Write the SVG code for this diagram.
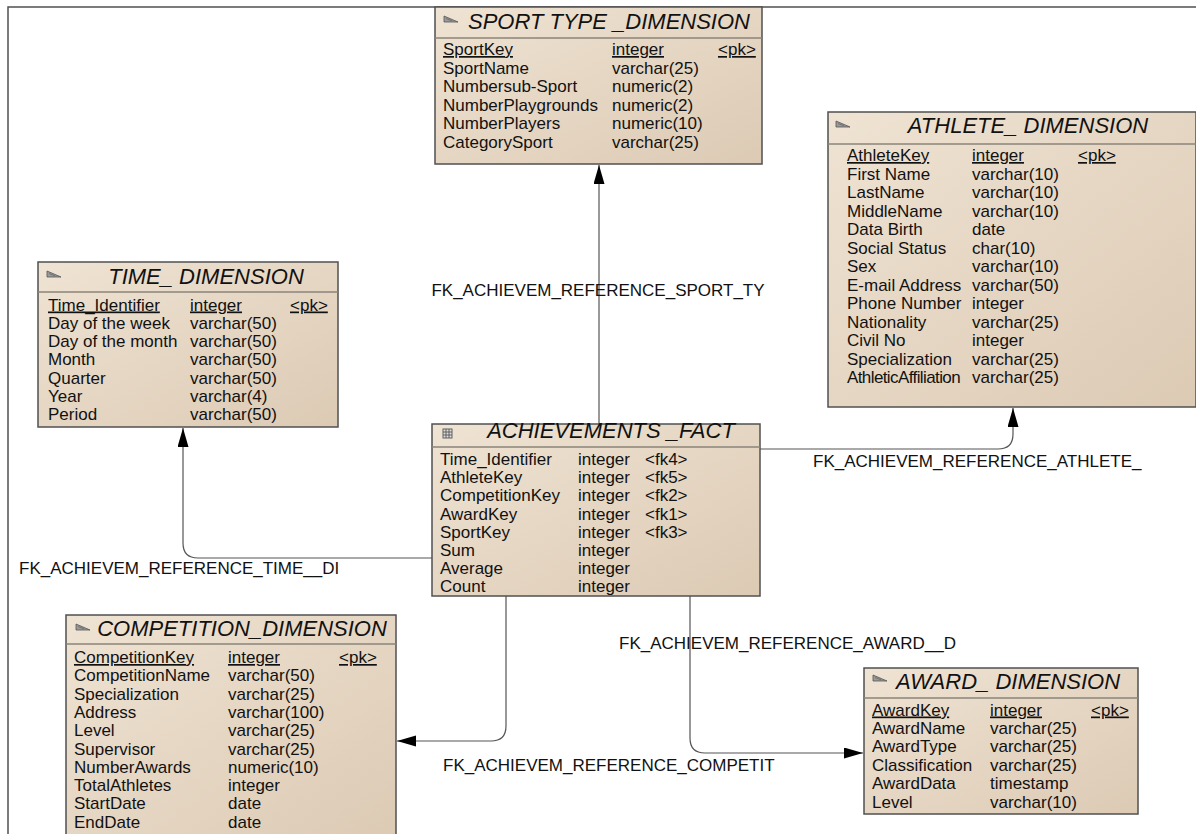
<svg xmlns="http://www.w3.org/2000/svg" width="1196" height="834" viewBox="0 0 1196 834">
<defs>
<linearGradient id="bg" x1="0" y1="0" x2="1" y2="1">
<stop offset="0" stop-color="#efe3d3"/>
<stop offset="1" stop-color="#dccab4"/>
</linearGradient>
<marker id="arr" markerWidth="20" markerHeight="12" refX="19" refY="5.5" orient="auto" markerUnits="userSpaceOnUse">
<path d="M0,0 L19,5.5 L0,11 z" fill="#000"/>
</marker>
<g id="pennant">
<path d="M0,0 L0,6 L14,6 z" fill="#9a9a9a" stroke="#555" stroke-width="0.8"/>
<line x1="2" y1="2.5" x2="8" y2="4.8" stroke="#555" stroke-width="0.6"/>
</g>
</defs>
<style>
.box{fill:url(#bg);stroke:#505050;stroke-width:1.5}
.sep{stroke:#8a8478;stroke-width:1.5}
.t{font-family:"Liberation Sans",Arial,sans-serif;font-size:17px;fill:#111}
.h{font-family:"Liberation Sans",Arial,sans-serif;font-size:22px;font-style:italic;fill:#111}
.u{text-decoration:underline}
.c{fill:none;stroke:#555;stroke-width:1.2}
.lbl{font-family:"Liberation Sans",Arial,sans-serif;font-size:17px;fill:#111}
</style>
<rect width="1196" height="834" fill="#fff"/>
<path d="M8,834 L8,7 L1196,7" fill="none" stroke="#505050" stroke-width="1.5"/>

<g id="connectors">
<path class="c" d="M599,424 L599,165" stroke="#999" marker-end="url(#arr)"/>
<path class="c" d="M432,558 L198,558 Q183,558 183,543 L183,428" marker-end="url(#arr)"/>
<path class="c" d="M760,449 L998,449 Q1013,449 1013,434 L1013,408" marker-end="url(#arr)"/>
<path class="c" d="M506,596 L506,726 Q506,741 491,741 L397,741" marker-end="url(#arr)"/>
<path class="c" d="M690,596 L690,738 Q690,753 705,753 L863,753" marker-end="url(#arr)"/>
<text class="lbl" x="598" y="296" text-anchor="middle">FK_ACHIEVEM_REFERENCE_SPORT_TY</text>
<text class="lbl" x="19" y="574">FK_ACHIEVEM_REFERENCE_TIME__DI</text>
<text class="lbl" x="813" y="467">FK_ACHIEVEM_REFERENCE_ATHLETE_</text>
<text class="lbl" x="619" y="649">FK_ACHIEVEM_REFERENCE_AWARD__D</text>
<text class="lbl" x="443" y="771">FK_ACHIEVEM_REFERENCE_COMPETIT</text>
</g>

<g id="sport">
<rect class="box" x="435" y="7" width="327" height="157"/>
<line class="sep" x1="435" y1="38" x2="762" y2="38"/>
<use href="#pennant" x="444" y="16"/>
<text class="h" x="468" y="29">SPORT TYPE _DIMENSION</text>
<g class="t">
<text x="443" y="55" class="u">SportKey</text><text x="612" y="55" class="u">integer</text><text x="718" y="55" class="u">&lt;pk&gt;</text>
<text x="443" y="73.5">SportName</text><text x="612" y="73.5">varchar(25)</text>
<text x="443" y="92">Numbersub-Sport</text><text x="612" y="92">numeric(2)</text>
<text x="443" y="110.5">NumberPlaygrounds</text><text x="612" y="110.5">numeric(2)</text>
<text x="443" y="129">NumberPlayers</text><text x="612" y="129">numeric(10)</text>
<text x="443" y="147.5">CategorySport</text><text x="612" y="147.5">varchar(25)</text>
</g>
</g>

<g id="athlete">
<rect class="box" x="828" y="112" width="368" height="295"/>
<line class="sep" x1="828" y1="144" x2="1196" y2="144"/>
<use href="#pennant" x="836" y="121"/>
<text class="h" x="1028" y="133" text-anchor="middle">ATHLETE_ DIMENSION</text>
<g class="t">
<text x="847" y="161" class="u">AthleteKey</text><text x="972" y="161" class="u">integer</text><text x="1078" y="161" class="u">&lt;pk&gt;</text>
<text x="847" y="179.5">First Name</text><text x="972" y="179.5">varchar(10)</text>
<text x="847" y="198">LastName</text><text x="972" y="198">varchar(10)</text>
<text x="847" y="216.5">MiddleName</text><text x="972" y="216.5">varchar(10)</text>
<text x="847" y="235">Data Birth</text><text x="972" y="235">date</text>
<text x="847" y="253.5">Social Status</text><text x="972" y="253.5">char(10)</text>
<text x="847" y="272">Sex</text><text x="972" y="272">varchar(10)</text>
<text x="847" y="290.5">E-mail Address</text><text x="972" y="290.5">varchar(50)</text>
<text x="847" y="309">Phone Number</text><text x="972" y="309">integer</text>
<text x="847" y="327.5">Nationality</text><text x="972" y="327.5">varchar(25)</text>
<text x="847" y="346">Civil No</text><text x="972" y="346">integer</text>
<text x="847" y="364.5">Specialization</text><text x="972" y="364.5">varchar(25)</text>
<text x="847" y="383" letter-spacing="-0.6">AthleticAffiliation</text><text x="972" y="383">varchar(25)</text>
</g>
</g>

<g id="time">
<rect class="box" x="38" y="262" width="300" height="165"/>
<line class="sep" x1="38" y1="292" x2="338" y2="292"/>
<use href="#pennant" x="47" y="271"/>
<text class="h" x="206" y="284" text-anchor="middle">TIME_ DIMENSION</text>
<g class="t">
<text x="48" y="310.5" class="u">Time_Identifier</text><text x="190" y="310.5" class="u">integer</text><text x="290" y="310.5" class="u">&lt;pk&gt;</text>
<text x="48" y="328.8">Day of the week</text><text x="190" y="328.8">varchar(50)</text>
<text x="48" y="347.1">Day of the month</text><text x="190" y="347.1">varchar(50)</text>
<text x="48" y="365.4">Month</text><text x="190" y="365.4">varchar(50)</text>
<text x="48" y="383.7">Quarter</text><text x="190" y="383.7">varchar(50)</text>
<text x="48" y="402">Year</text><text x="190" y="402">varchar(4)</text>
<text x="48" y="420.3">Period</text><text x="190" y="420.3">varchar(50)</text>
</g>
</g>

<g id="fact">
<rect class="box" x="432" y="424" width="328" height="172"/>
<line class="sep" x1="432" y1="447" x2="760" y2="447"/>
<g transform="translate(443,429)" fill="none" stroke="#555" stroke-width="0.9">
<rect x="0" y="0" width="9" height="9" fill="#ddd"/>
<line x1="0" y1="3" x2="9" y2="3"/><line x1="0" y1="6" x2="9" y2="6"/>
<line x1="3" y1="0" x2="3" y2="9"/><line x1="6" y1="0" x2="6" y2="9"/>
</g>
<text class="h" x="611" y="438" text-anchor="middle">ACHIEVEMENTS _FACT</text>
<g class="t">
<text x="440" y="465">Time_Identifier</text><text x="578" y="465">integer</text><text x="645" y="465">&lt;fk4&gt;</text>
<text x="440" y="483.2">AthleteKey</text><text x="578" y="483.2">integer</text><text x="645" y="483.2">&lt;fk5&gt;</text>
<text x="440" y="501.4">CompetitionKey</text><text x="578" y="501.4">integer</text><text x="645" y="501.4">&lt;fk2&gt;</text>
<text x="440" y="519.6">AwardKey</text><text x="578" y="519.6">integer</text><text x="645" y="519.6">&lt;fk1&gt;</text>
<text x="440" y="537.8">SportKey</text><text x="578" y="537.8">integer</text><text x="645" y="537.8">&lt;fk3&gt;</text>
<text x="440" y="556">Sum</text><text x="578" y="556">integer</text>
<text x="440" y="574.2">Average</text><text x="578" y="574.2">integer</text>
<text x="440" y="592.4">Count</text><text x="578" y="592.4">integer</text>
</g>
</g>

<g id="competition">
<rect class="box" x="66" y="615" width="330" height="225"/>
<line class="sep" x1="66" y1="644" x2="396" y2="644"/>
<use href="#pennant" x="76" y="624"/>
<text class="h" x="242" y="636" text-anchor="middle">COMPETITION_DIMENSION</text>
<g class="t">
<text x="74" y="663" class="u">CompetitionKey</text><text x="228" y="663" class="u">integer</text><text x="339" y="663" class="u">&lt;pk&gt;</text>
<text x="74" y="681.3">CompetitionName</text><text x="228" y="681.3">varchar(50)</text>
<text x="74" y="699.6">Specialization</text><text x="228" y="699.6">varchar(25)</text>
<text x="74" y="717.9">Address</text><text x="228" y="717.9">varchar(100)</text>
<text x="74" y="736.2">Level</text><text x="228" y="736.2">varchar(25)</text>
<text x="74" y="754.5">Supervisor</text><text x="228" y="754.5">varchar(25)</text>
<text x="74" y="772.8">NumberAwards</text><text x="228" y="772.8">numeric(10)</text>
<text x="74" y="791.1">TotalAthletes</text><text x="228" y="791.1">integer</text>
<text x="74" y="809.4">StartDate</text><text x="228" y="809.4">date</text>
<text x="74" y="827.7">EndDate</text><text x="228" y="827.7">date</text>
</g>
</g>

<g id="award">
<rect class="box" x="864" y="668" width="274" height="146"/>
<line class="sep" x1="864" y1="698" x2="1138" y2="698"/>
<use href="#pennant" x="873" y="675"/>
<text class="h" x="1008" y="689" text-anchor="middle">AWARD_ DIMENSION</text>
<g class="t">
<text x="872" y="715.5" class="u">AwardKey</text><text x="990" y="715.5" class="u">integer</text><text x="1091" y="715.5" class="u">&lt;pk&gt;</text>
<text x="872" y="733.9">AwardName</text><text x="990" y="733.9">varchar(25)</text>
<text x="872" y="752.3">AwardType</text><text x="990" y="752.3">varchar(25)</text>
<text x="872" y="770.7">Classification</text><text x="990" y="770.7">varchar(25)</text>
<text x="872" y="789.1">AwardData</text><text x="990" y="789.1">timestamp</text>
<text x="872" y="807.5">Level</text><text x="990" y="807.5">varchar(10)</text>
</g>
</g>
</svg>
